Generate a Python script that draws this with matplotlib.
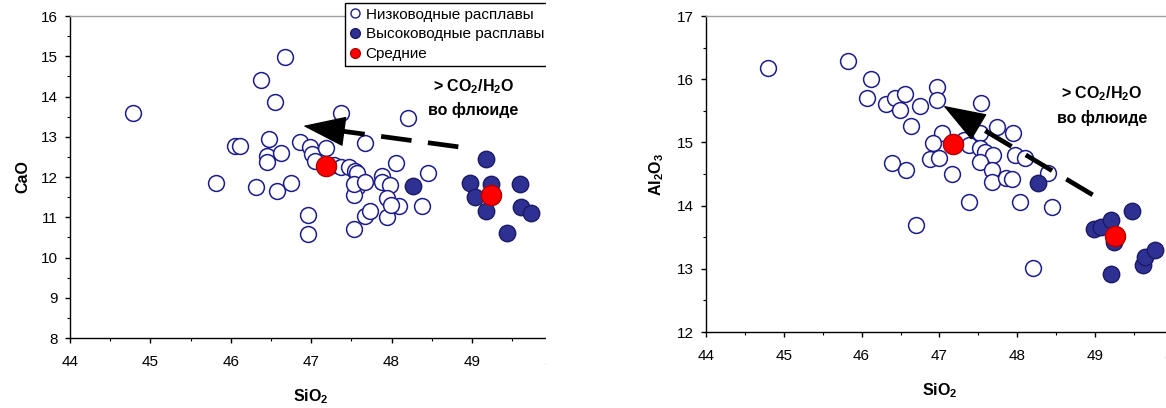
import matplotlib
matplotlib.use("Agg")
import matplotlib.pyplot as plt
from matplotlib.lines import Line2D
from matplotlib.patches import Rectangle
from matplotlib.ticker import MultipleLocator

plt.rcParams['font.family'] = ['Liberation Sans', 'DejaVu Sans']
plt.rcParams['mathtext.fontset'] = 'custom'
plt.rcParams['mathtext.rm'] = 'Liberation Sans'
plt.rcParams['mathtext.bf'] = 'Liberation Sans:bold'

# --- CaO vs SiO2 (left) ---
low_sio2_a = [44.78, 45.82, 46.68, 46.38, 46.55, 46.05, 46.11, 46.47, 46.45, 46.45,
              46.62, 46.75, 46.86, 46.31, 46.57, 46.96, 46.96, 47.37, 48.20, 46.98,
              47.01, 47.19, 47.05, 47.28, 47.37, 47.47, 47.55, 47.67, 47.57, 47.57,
              47.53, 47.53, 47.53, 47.67, 47.73, 47.67, 47.88, 47.88, 47.98, 47.94,
              47.94, 48.09, 47.99, 48.38, 48.45, 48.05]
low_cao = [13.60, 11.86, 14.99, 14.41, 13.86, 12.78, 12.78, 12.94, 12.52, 12.38,
           12.60, 11.86, 12.86, 11.76, 11.66, 11.06, 10.58, 13.58, 13.46, 12.75,
           12.57, 12.71, 12.40, 12.30, 12.25, 12.25, 12.15, 12.85, 12.09, 11.76,
           11.55, 11.83, 10.71, 11.02, 11.16, 11.87, 12.03, 11.87, 11.80, 11.48,
           11.00, 11.29, 11.31, 11.29, 12.09, 12.35]
high_sio2_a = [48.26, 49.17, 48.98, 49.04, 49.18, 49.24, 49.60, 49.61, 49.74, 49.44]
high_cao = [11.78, 12.44, 11.86, 11.51, 11.15, 11.82, 11.82, 11.26, 11.10, 10.60]
mean_sio2_a = [47.18, 49.24]
mean_cao = [12.27, 11.55]

# --- Al2O3 vs SiO2 (right) ---
low_sio2_b = [44.80, 45.82, 46.12, 46.07, 46.31, 46.43, 46.56, 46.49, 46.75, 46.97,
              46.97, 47.54, 46.63, 47.03, 46.92, 47.31, 47.38, 47.52, 47.74, 47.95,
              46.88, 47.00, 47.52, 47.59, 47.69, 47.52, 47.67, 47.97, 48.10, 46.39,
              46.57, 47.16, 47.67, 47.86, 47.93, 48.40, 46.70, 47.38, 48.03, 48.45,
              48.20]
low_al2o3 = [16.17, 16.29, 16.00, 15.71, 15.61, 15.70, 15.76, 15.51, 15.58, 15.87,
             15.67, 15.63, 15.26, 15.15, 14.99, 15.04, 14.96, 15.15, 15.25, 15.15,
             14.73, 14.76, 14.91, 14.85, 14.80, 14.69, 14.56, 14.80, 14.75, 14.67,
             14.57, 14.50, 14.38, 14.43, 14.42, 14.51, 13.70, 14.05, 14.05, 13.97,
             13.01]
high_sio2_b = [48.27, 48.99, 49.08, 49.21, 49.25, 49.21, 49.48, 49.62, 49.64, 49.77]
high_al2o3 = [14.36, 13.63, 13.66, 13.77, 13.42, 12.92, 13.91, 13.06, 13.18, 13.30]
mean_sio2_b = [47.18, 49.26]
mean_al2o3 = [14.97, 13.52]

# arrows (tail -> tip) and note positions
arrow_a = ((48.83, 12.75), (46.90, 13.27))
arrow_b = ((48.97, 14.17), (47.05, 15.58))
note_a = (49.02, 14.24, 13.66)
note_b = (49.09, 15.77, 15.39)

legend_labels = ['Низководные расплавы', 'Высоководные расплавы', 'Средние']

NAVY = '#1c1c8c'
FILL = '#2e3192'
EDGE_F = '#1a1a66'
RED = '#ff0000'

fig = plt.figure(figsize=(11.66, 4.08), dpi=100)
W, H = 1166, 408
ax1 = fig.add_axes([70 / W, 70 / H, 482.4 / W, 322 / H])
ax2 = fig.add_axes([706 / W, 76 / H, 466.8 / W, 316 / H])


def style(ax, ylim, ylabel):
    ax.set_xlim(44, 50)
    ax.set_ylim(*ylim)
    ax.xaxis.set_major_locator(MultipleLocator(1))
    ax.xaxis.set_minor_locator(MultipleLocator(0.5))
    ax.yaxis.set_major_locator(MultipleLocator(1))
    ax.yaxis.set_minor_locator(MultipleLocator(0.5))
    ax.tick_params(which='major', direction='out', length=3.5, width=1,
                   labelsize=11, pad=5, color='black')
    ax.tick_params(axis='x', which='major', pad=9)
    ax.tick_params(which='minor', direction='out', length=2.5, width=0.8)
    ax.tick_params(top=False, right=False, which='both')
    for s in ('left', 'bottom'):
        ax.spines[s].set_color('black')
        ax.spines[s].set_linewidth(1)
    ax.spines['top'].set_color('#a0a0a0')
    ax.spines['top'].set_linewidth(1)
    ax.spines['right'].set_visible(False)
    ax.set_xlabel('SiO$_\\mathbf{2}$', fontsize=11.5, fontweight='bold', labelpad=13)
    ax.set_ylabel(ylabel, fontsize=11.5, fontweight='bold', labelpad=8)


def draw(ax, lx, ly, hx, hy, mx, my):
    ax.scatter(lx, ly, s=130, facecolors='white', edgecolors=NAVY, linewidths=1.1, zorder=3)
    ax.scatter(hx, hy, s=140, facecolors=FILL, edgecolors=EDGE_F, linewidths=1.0, zorder=4)
    ax.scatter(mx, my, s=210, facecolors=RED, edgecolors='#b00000', linewidths=1.0, zorder=5)


def arrow(ax, tail, tip, frac):
    base = (tip[0] + frac * (tail[0] - tip[0]), tip[1] + frac * (tail[1] - tip[1]))
    ax.plot([tail[0], base[0]], [tail[1], base[1]], color='black', lw=3.4,
            linestyle=(0, (6.5, 3.5)), dash_capstyle='butt', zorder=6)
    ax.annotate('', xy=tip, xytext=base,
                arrowprops=dict(arrowstyle='-|>,head_length=2.8,head_width=1.0',
                                mutation_scale=10, fc='black', ec='black', lw=1,
                                shrinkA=0, shrinkB=0), zorder=7)


def note(ax, x, y1, y2):
    ax.text(x, y1, '> CO$_\\mathbf{2}$/H$_\\mathbf{2}$O', ha='center', va='center',
            fontsize=11.5, fontweight='bold', zorder=8)
    ax.text(x, y2, 'во флюиде', ha='center', va='center',
            fontsize=11.5, fontweight='bold', zorder=8)


style(ax1, (8, 16), 'CaO')
style(ax2, (12, 17), 'Al$_\\mathbf{2}$O$_\\mathbf{3}$')
draw(ax1, low_sio2_a, low_cao, high_sio2_a, high_cao, mean_sio2_a, mean_cao)
draw(ax2, low_sio2_b, low_al2o3, high_sio2_b, high_al2o3, mean_sio2_b, mean_al2o3)
arrow(ax1, arrow_a[0], arrow_a[1], 0.24)
arrow(ax2, arrow_b[0], arrow_b[1], 0.22)
note(ax1, *note_a)
note(ax2, *note_b)

handles = [
    Line2D([], [], linestyle='none', marker='o', markersize=6.5, markerfacecolor='white',
           markeredgecolor=NAVY, markeredgewidth=1.0),
    Line2D([], [], linestyle='none', marker='o', markersize=7, markerfacecolor=FILL,
           markeredgecolor=EDGE_F),
    Line2D([], [], linestyle='none', marker='o', markersize=7, markerfacecolor=RED,
           markeredgecolor='#b00000'),
]
leg = ax1.legend(handles, legend_labels, loc='upper left',
                 bbox_to_anchor=(345 / W, 1 - 3 / H), bbox_transform=fig.transFigure,
                 fontsize=11, frameon=True, fancybox=False, framealpha=1,
                 edgecolor='black', borderpad=0.3, labelspacing=0.38,
                 handlelength=0.7, handletextpad=0.35, borderaxespad=0)
leg.get_frame().set_linewidth(1)
leg.set_zorder(20)

# the source picture is cut off to the right of the left panel
fig.add_artist(Rectangle((546 / W, 0), 80 / W, 1, transform=fig.transFigure,
                         facecolor='white', edgecolor='none', zorder=50))

fig.savefig('out.png', dpi=100)
